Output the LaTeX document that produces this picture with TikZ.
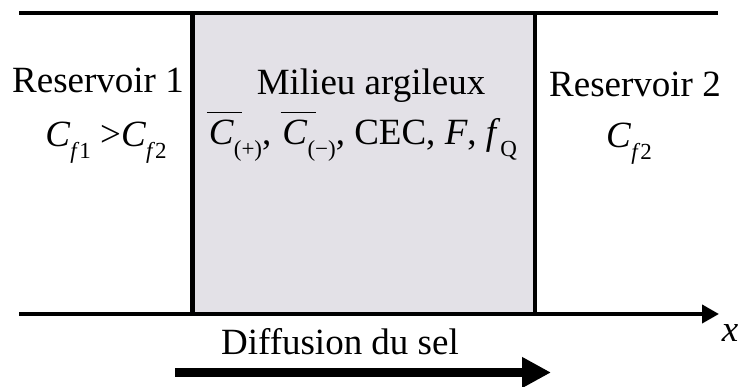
\documentclass[tikz,border=0pt]{standalone}
\usepackage{fontspec}
\setmainfont[Ligatures={NoCommon}]{Liberation Serif}
\usetikzlibrary{arrows.meta}
\definecolor{clay}{RGB}{227,225,231}
\newcommand\mysub[1]{\raisebox{-0.3em}{\fontsize{23}{23}\selectfont #1}}
\newcommand\ovC{\leavevmode\rlap{\raisebox{0.86em}{\rule{0.95em}{1.4pt}}}\hspace{0.05em}\textit{C}}
\tikzset{
  lbl/.style={anchor=base, inner sep=0pt, font=\fontsize{37}{40}\selectfont},
  wall/.style={line width=4pt},
  axis/.style={line width=4pt, -{Triangle[length=17pt,width=18pt]}},
  flow/.style={line width=9pt, -{Triangle[length=29pt,width=29pt]}}
}
\begin{document}
\begin{tikzpicture}[x=1pt,y=1pt]
\useasboundingbox (0,0) rectangle (738,387);
% coordinates
\coordinate (tl) at (19,373.5);
\coordinate (tr) at (718,373.5);
\coordinate (bl) at (19,73);
\coordinate (br) at (719,73);
\coordinate (b1) at (192.5,73);
\coordinate (t1) at (192.5,373.5);
\coordinate (b2) at (535,73);
\coordinate (t2) at (535,373.5);
\coordinate (fs) at (175,14.5);
\coordinate (fe) at (551,14.5);
% clay box
\fill[clay] (b1) rectangle (t2);
\draw[wall] (tl) -- (tr);
\draw[axis] (bl) -- (br);
\draw[line width=5pt] (b1) -- (t1);
\draw[wall] (b2) -- (t2);
% texts
\node[lbl] (r1) at (98,294) {Reservoir 1};
\node[lbl] (c1) at (106,240) {\textit{C}\mysub{\textit{f}1} >\textit{C}\mysub{\textit{f}2}};
\node[lbl] (m) at (371,292) {Milieu argileux};
\node[lbl] (mp) at (362,242) {\ovC\mysub{(+)}, \ovC\mysub{(−)}, CEC, \textit{F}, \textit{f}\mysub{Q}};
\node[lbl] (r2) at (635,290) {Reservoir 2};
\node[lbl] (c2) at (629,239) {\textit{C}\mysub{\textit{f}2}};
\node[lbl] (xl) at (730,45) {\textit{x}};
\node[lbl] (d) at (340,32) {Diffusion du sel};
\draw[flow] (fs) -- (fe);
\end{tikzpicture}
\end{document}
